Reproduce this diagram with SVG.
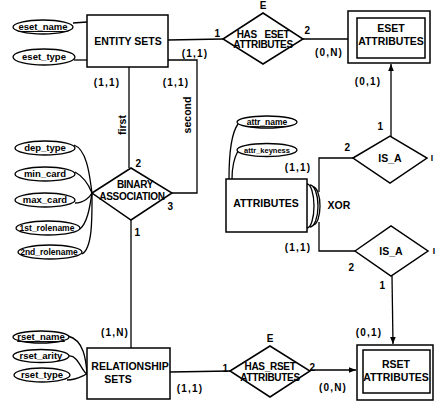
<svg xmlns="http://www.w3.org/2000/svg" width="436" height="401" viewBox="0 0 436 401">
<style>
text{font-family:"Liberation Sans",Arial,sans-serif;font-weight:bold;fill:#000;text-anchor:middle}
.n{font-size:10.5px}
.d{font-size:10px;letter-spacing:-0.3px}
.a{font-size:9.5px}
.s{font-size:8.5px}
.c{font-size:10px;letter-spacing:1.2px}
.box{fill:#fff;stroke:#000;stroke-width:1.5}
.dia{fill:#fff;stroke:#000;stroke-width:1.5}
.ell{fill:#fff;stroke:#000;stroke-width:1.3}
.ln{fill:none;stroke:#000;stroke-width:1.3}
</style>
<defs>
<marker id="arr" viewBox="0 0 10 10" refX="10" refY="5" markerWidth="7" markerHeight="7" orient="auto" markerUnits="userSpaceOnUse">
<path d="M0,1 L10,5 L0,9 Z" fill="#000"/>
</marker>
</defs>

<g id="connectors">
<path class="ln" d="M73,23 L87,22"/>
<path class="ln" d="M74,60 L87,60"/>
<path class="ln" d="M168,40 L223,39"/>
<path class="ln" d="M303,39 L356,39" marker-end="url(#arr)"/>
<path class="ln" d="M129,67 L129,168"/>
<path class="ln" d="M168,60 L197,60 L197,193 L172,193"/>
<path class="ln" d="M74,145 C88,150 90,180 92,193"/>
<path class="ln" d="M75,172 C86,178 90,188 92,193"/>
<path class="ln" d="M75,203 C84,203 90,197 92,193"/>
<path class="ln" d="M80,229 C88,222 90,205 92,193"/>
<path class="ln" d="M82,254 C93,248 92,215 92,193"/>
<path class="ln" d="M131,220 L131,348"/>
<path class="ln" d="M68,336 C84,340 86,360 87,374"/>
<path class="ln" d="M69,356 C78,355 82,372 87,374"/>
<path class="ln" d="M67,380 C76,380 82,376 87,374"/>
<path class="ln" d="M170,372 L230,371"/>
<path class="ln" d="M310,370 L356,370" marker-end="url(#arr)"/>
<path class="ln" d="M238,124 C230,135 229,160 229,179"/>
<path class="ln" d="M238,151 C233,160 232,170 232,179"/>
<path class="ln" d="M353,158 L319,158 L319,192"/>
<path class="ln" d="M355,251 L319,251 L319,222"/>
<path class="ln" d="M307,184 A7,22 0 0 1 307,228"/>
<path class="ln" d="M310,185 A8,21 0 0 1 310,227"/>
<path class="ln" d="M313,187 A7,19 0 0 1 313,225"/>
<path class="ln" d="M391,137 L391,64" marker-end="url(#arr)"/>
<path class="ln" d="M392,276 L393,344" marker-end="url(#arr)"/>
</g>

<g id="entity_sets"><rect class="box" x="87" y="15" width="81" height="52"/><text class="n" x="128" y="45">ENTITY SETS</text></g>
<g id="eset_name"><ellipse class="ell" cx="43" cy="27" rx="30" ry="7"/><text class="a" x="43" y="30" text-decoration="underline">eset_name</text></g>
<g id="eset_type"><ellipse class="ell" cx="44" cy="57" rx="31" ry="8"/><text class="a" x="44" y="60">eset_type</text></g>

<g id="has_eset_attributes"><path class="dia" d="M223,39 L263,13 L303,39 L263,64 Z"/><text class="d" x="263" y="9">E</text><text class="d" x="263" y="38" word-spacing="5">HAS ESET</text><text class="d" x="263" y="48">ATTRIBUTES</text></g>

<g id="eset_attributes"><rect class="box" x="348" y="11" width="82" height="52"/><rect class="box" x="357" y="18" width="68" height="40"/><text class="n" x="391" y="32">ESET</text><text class="n" x="391" y="45">ATTRIBUTES</text></g>

<g id="binary_association"><path class="dia" d="M92,193 L131,168 L172,193 L131,220 Z"/><text class="d" x="135" y="188">BINARY</text><text class="d" x="132" y="200">ASSOCIATION</text></g>
<g id="dep_type"><ellipse class="ell" cx="45" cy="148" rx="30" ry="7"/><text class="a" x="45" y="151">dep_type</text></g>
<g id="min_card"><ellipse class="ell" cx="45" cy="174" rx="30" ry="7"/><text class="a" x="45" y="177">min_card</text></g>
<g id="max_card"><ellipse class="ell" cx="45" cy="200" rx="30" ry="7"/><text class="a" x="45" y="203">max_card</text></g>
<g id="first_rolename"><ellipse class="ell" cx="48" cy="228" rx="32" ry="7"/><text class="s" x="47" y="231">1st_rolename</text></g>
<g id="second_rolename"><ellipse class="ell" cx="50" cy="252" rx="32" ry="7"/><text class="s" x="49" y="255">2nd_rolename</text></g>

<g id="attributes"><rect class="box" x="226" y="179" width="81" height="53"/><text class="n" x="266" y="207">ATTRIBUTES</text></g>
<g id="attr_name"><ellipse class="ell" cx="267" cy="122" rx="30" ry="6"/><text class="s" x="267" y="125" text-decoration="underline">attr_name</text></g>
<g id="attr_keyness"><ellipse class="ell" cx="267" cy="150" rx="30" ry="6.5"/><text x="267" y="153" style="font-size:7.5px">attr_keyness</text></g>

<g id="is_a_upper"><path class="dia" d="M353,158 L390,136 L427,158 L390,183 Z"/><text class="n" x="390" y="162">IS_A</text></g>
<g id="is_a_lower"><path class="dia" d="M355,251 L391,226 L428,251 L391,276 Z"/><text class="n" x="391" y="255">IS_A</text></g>

<g id="relationship_sets"><rect class="box" x="87" y="348" width="83" height="51"/><text class="n" x="130" y="370">RELATIONSHIP</text><text class="n" x="118" y="383">SETS</text></g>
<g id="rset_name"><ellipse class="ell" cx="41" cy="337" rx="28" ry="6"/><text class="a" x="41" y="340" text-decoration="underline">rset_name</text></g>
<g id="rset_arity"><ellipse class="ell" cx="41" cy="356" rx="28" ry="6.5"/><text class="a" x="41" y="359">rset_arity</text></g>
<g id="rset_type"><ellipse class="ell" cx="42" cy="375" rx="28" ry="7"/><text class="a" x="42" y="378">rset_type</text></g>

<g id="has_rset_attributes"><path class="dia" d="M230,371 L270,346 L310,371 L270,397 Z"/><text class="d" x="270" y="342">E</text><text class="d" x="270" y="370">HAS_RSET</text><text class="d" x="270" y="381">ATTRIBUTES</text></g>

<g id="rset_attributes"><rect class="box" x="357" y="345" width="76" height="55"/><rect class="box" x="363" y="350" width="67" height="43"/><text class="n" x="396" y="368">RSET</text><text class="n" x="396" y="381">ATTRIBUTES</text></g>

<g id="labels">
<text class="c" x="218" y="37">1</text>
<text class="c" x="308" y="34">2</text>
<text class="c" x="329" y="56">(0,N)</text>
<text class="c" x="368" y="85">(0,1)</text>
<text class="c" x="381" y="130">1</text>
<text class="c" x="107" y="86">(1,1)</text>
<text class="c" x="176" y="86">(1,1)</text>
<text class="c" x="195" y="57">(1,1)</text>
<text class="c" x="139" y="167">2</text>
<text class="c" x="171" y="210">3</text>
<text class="c" x="138" y="236">1</text>
<text class="n" x="0" y="0" transform="translate(126,125) rotate(-90)">first</text>
<text class="n" x="0" y="0" transform="translate(191,115) rotate(-90)">second</text>
<text class="c" x="298" y="171">(1,1)</text>
<text class="c" x="298" y="251">(1,1)</text>
<text class="c" x="348" y="151">2</text>
<text class="c" x="352" y="271">2</text>
<text class="n" x="339" y="209">XOR</text>
<text class="s" x="432" y="161">I</text>
<text class="s" x="434" y="254">I</text>
<text class="c" x="383" y="289">1</text>
<text class="c" x="369" y="336">(0,1)</text>
<text class="c" x="115" y="336">(1,N)</text>
<text class="c" x="190" y="392">(1,1)</text>
<text class="c" x="226" y="372">1</text>
<text class="c" x="313" y="371">2</text>
<text class="c" x="333" y="391">(0,N)</text>
</g>
</svg>
